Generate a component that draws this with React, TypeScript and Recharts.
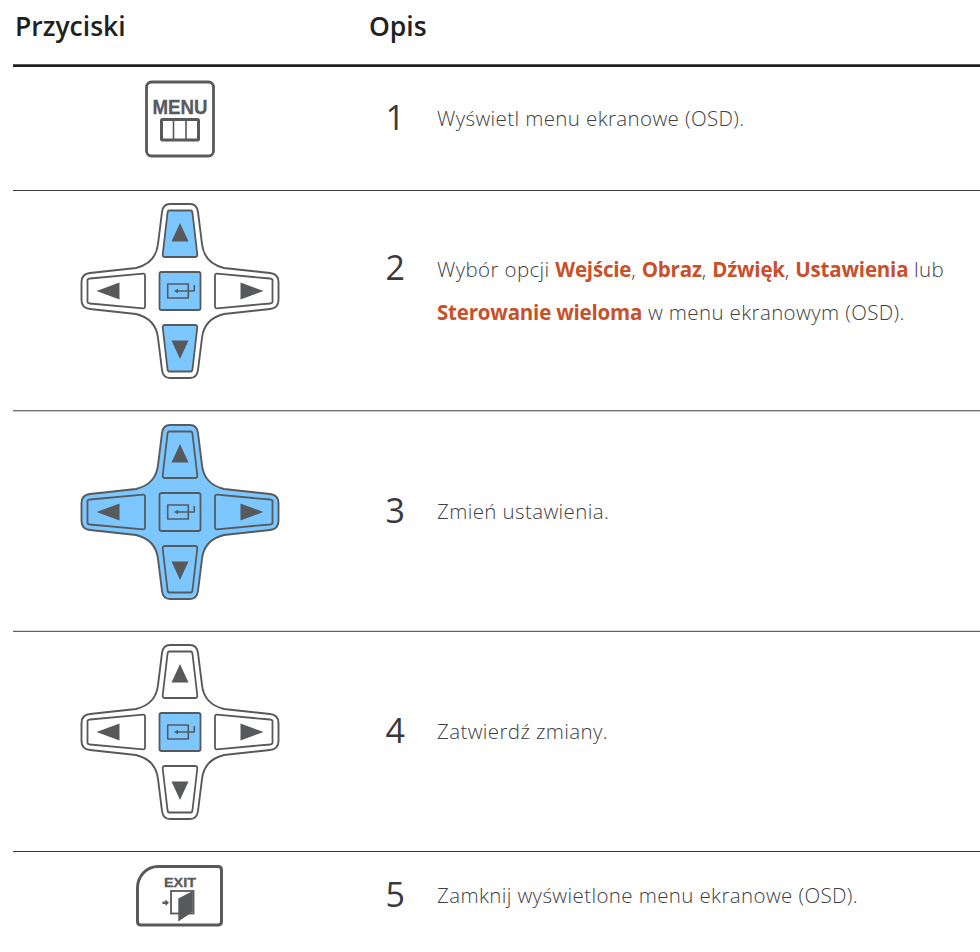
import React from 'react';
import { ScatterChart, Scatter, XAxis, YAxis, ReferenceLine } from 'recharts';

const PAGE_W = 980;
const PAGE_H = 952;
const INK = '#58595b';
const BLUE = '#7cc7ff';
const ACCENT = '#c8502a';
const TEXT = '#404042';
const BODY = '"Open Sans", sans-serif';

// table layout (y grows downwards, in page pixels)
const headerLabels = ['Przyciski', 'Opis'];
const headerColumns = [15, 369];
const headerBaseline = [36, 36];
const ruleRows = [190.5, 410.8, 631.3, 851.5];
const headRule = 65.6;
const ruleStart = 13;

const iconKinds = ['menu', 'pad', 'pad', 'pad', 'exit'];
const iconRows = [119, 291, 512, 732, 896];
const iconColumn = 180;
// which parts of the pad are lit: up/down, left/right, centre, body
const litUpDown = [false, true, true, false, false];
const litLeftRight = [false, false, true, false, false];
const litCentre = [false, true, true, true, false];
const litBody = [false, false, true, false, false];

const stepLabels = ['1', '2', '3', '4', '5'];
const stepColumn = 385.5;
const stepBaselines = [130, 280, 523, 743, 907];

const textColumn = 437;
const textLines = [
  [{ t: 'Wyświetl menu ekranowe (OSD).' }],
  [
    { t: 'Wybór opcji ' },
    { t: 'Wejście', b: true },
    { t: ', ' },
    { t: 'Obraz', b: true },
    { t: ', ' },
    { t: 'Dźwięk', b: true },
    { t: ', ' },
    { t: 'Ustawienia', b: true },
    { t: ' lub' },
  ],
  [{ t: 'Sterowanie wieloma', b: true }, { t: ' w menu ekranowym (OSD).' }],
  [{ t: 'Zmień ustawienia.' }],
  [{ t: 'Zatwierdź zmiany.' }],
  [{ t: 'Zamknij wyświetlone menu ekranowe (OSD).' }],
];
const textBaselines = [126, 277, 320, 519, 739, 903];

const headerData = headerLabels.map((label, i) => ({ x: headerColumns[i], y: headerBaseline[i], label }));
const iconData = iconKinds.map((kind, i) => ({
  x: iconColumn,
  y: iconRows[i],
  kind,
  upDown: litUpDown[i],
  leftRight: litLeftRight[i],
  centre: litCentre[i],
  body: litBody[i],
}));
const stepData = stepLabels.map((label, i) => ({ x: stepColumn, y: stepBaselines[i], label }));
const lineData = textLines.map((segments, i) => ({ x: textColumn, y: textBaselines[i], segments }));

const PAD_OUTLINE =
  'M -10 -87 L 10 -87 Q 17 -87 18 -79 L 22 -47 Q 24 -28 44 -23 L 90 -18 Q 98.5 -17 98.5 -9 L 98.5 9 Q 98.5 17 90 18 L 44 23 Q 24 28 22 47 L 18 79 Q 17 87 10 87 L -10 87 Q -17 87 -18 79 L -22 47 Q -24 28 -44 23 L -90 18 Q -98.5 17 -98.5 9 L -98.5 -9 Q -98.5 -17 -90 -18 L -44 -23 Q -24 -28 -22 -47 L -18 -79 Q -17 -87 -10 -87 Z';
const UP_KEY =
  'M -11 -80.5 L 11 -80.5 Q 12 -80.5 12.5 -78 L 17.3 -36.5 Q 17.5 -34 15 -34 L -15 -34 Q -17.5 -34 -17.3 -36.5 L -12.5 -78 Q -12 -80.5 -11 -80.5 Z';

const PadIcon = ({ cx, cy, payload }: any) => {
  const keyFill = (on: boolean) => (on ? BLUE : '#fff');
  return (
    <g transform={`translate(${cx},${cy})`} stroke={INK} strokeLinejoin="round">
      <path d={PAD_OUTLINE} fill={payload.body ? BLUE : '#fff'} strokeWidth={1.9} />
      {[0, 180].map((rot) => (
        <g key={rot} transform={`rotate(${rot})`}>
          <path d={UP_KEY} fill={keyFill(payload.upDown)} strokeWidth={1.8} />
          <path d="M 0 -68 L 8.5 -49.5 L -8.5 -49.5 Z" fill={INK} stroke="none" />
        </g>
      ))}
      {[90, 270].map((rot) => (
        <g key={rot} transform={`rotate(${rot})`}>
          <path
            d="M -11 -92.5 L 11 -92.5 Q 12 -92.5 12.5 -90 L 17.3 -37 Q 17.5 -35 15 -35 L -15 -35 Q -17.5 -35 -17.3 -37 L -12.5 -90 Q -12 -92.5 -11 -92.5 Z"
            fill={keyFill(payload.leftRight)}
            strokeWidth={1.8}
          />
          <path d="M 0 -83.5 L 8.5 -60.5 L -8.5 -60.5 Z" fill={INK} stroke="none" />
        </g>
      ))}
      <rect x={-20.5} y={-19} width={41} height={38} rx={2} fill={keyFill(payload.centre)} strokeWidth={1.8} />
      <rect x={-12.3} y={-7} width={20.6} height={14} fill="none" strokeWidth={1.6} />
      <path d="M 14.3 -6 L 14.3 0 L -3 0" fill="none" strokeWidth={1.6} />
      <path d="M -6 0 L -2 -2.2 L -2 2.2 Z" fill={INK} stroke="none" />
    </g>
  );
};

const MenuIcon = ({ cx, cy }: any) => (
  <g transform={`translate(${cx},${cy})`}>
    <rect x={-33.5} y={-37} width={67} height={74} rx={5} fill="#fff" stroke={INK} strokeWidth={2.8} />
    <text
      x={0}
      y={-5.5}
      textAnchor="middle"
      fontFamily='"Liberation Sans", Arial, sans-serif'
      fontWeight={700}
      fontSize={19.5}
      fill={INK}
      stroke={INK}
      strokeWidth={0.3}
      textLength={55}
      lengthAdjust="spacingAndGlyphs"
    >
      MENU
    </text>
    <rect x={-18.5} y={0.5} width={37} height={20.5} rx={1} fill="none" stroke={INK} strokeWidth={3} />
    <path d="M -6.5 0 L -6.5 21 M 6 0 L 6 21" stroke={INK} strokeWidth={1.6} />
  </g>
);

const ExitIcon = ({ cx, cy }: any) => (
  <g transform={`translate(${cx},${cy})`}>
    <path
      d="M -22 -29.5 L 38 -29.5 Q 41.5 -29.5 41.5 -26 L 41.5 25.5 Q 41.5 29 38 29 L -39 29 Q -42.5 29 -42.5 25.5 L -42.5 -8 A 20.5 21.5 0 0 1 -22 -29.5 Z"
      fill="#fff"
      stroke={INK}
      strokeWidth={3}
    />
    <text
      x={0}
      y={-9.5}
      textAnchor="middle"
      fontFamily='"Liberation Sans", Arial, sans-serif'
      fontWeight={700}
      fontSize={13}
      fill={INK}
      stroke={INK}
      strokeWidth={0.3}
      textLength={32}
      lengthAdjust="spacingAndGlyphs"
    >
      EXIT
    </text>
    <rect x={-9} y={-5} width={22.5} height={22.5} fill="none" stroke={INK} strokeWidth={1.8} />
    <path d="M -1.7 2.5 L 12.8 -5 L 12.8 15.8 L -1.7 25.5 Z" fill={INK} />
    <path d="M -17.5 5.5 L -14.5 5.5 L -14.5 3.5 L -11 6.8 L -14.5 10 L -14.5 8 L -17.5 8 Z" fill={INK} />
  </g>
);

const IconShape = (props: any) => {
  const { kind } = props.payload;
  if (kind === 'menu') return <MenuIcon {...props} />;
  if (kind === 'exit') return <ExitIcon {...props} />;
  return <PadIcon {...props} />;
};

const HeaderShape = ({ cx, cy, payload }: any) => (
  <text x={cx} y={cy} fontFamily={BODY} fontWeight={600} fontSize={26.5} fill="#231f20">
    {payload.label}
  </text>
);

const StepShape = ({ cx, cy, payload }: any) => (
  <text x={cx} y={cy} fontFamily={BODY} fontWeight={400} fontSize={34} fill="#3a3a3c">
    {payload.label}
  </text>
);

const LineShape = ({ cx, cy, payload }: any) => (
  <text x={cx} y={cy} fontFamily={BODY} fontSize={20.5} fill={TEXT}>
    {payload.segments.map((seg: any, i: number) => (
      <tspan
        key={i}
        fontWeight={seg.b ? 700 : 300}
        fill={seg.b ? ACCENT : TEXT}
        letterSpacing={seg.b ? -0.2 : 0.38}
      >
        {seg.t}
      </tspan>
    ))}
  </text>
);

export default function App() {
  return (
    <div style={{ position: 'absolute', left: 0, top: 0, width: PAGE_W, height: PAGE_H, background: '#fff' }}>
      <ScatterChart width={PAGE_W} height={PAGE_H} margin={{ top: 0, right: 0, bottom: 0, left: 0 }}>
        <XAxis type="number" dataKey="x" domain={[0, PAGE_W]} hide />
        <YAxis type="number" dataKey="y" domain={[0, PAGE_H]} reversed hide />
        <ReferenceLine
          segment={[{ x: ruleStart, y: headRule }, { x: PAGE_W, y: headRule }]}
          stroke="#231f20"
          strokeWidth={2.6}
        />
        {ruleRows.map((y) => (
          <ReferenceLine
            key={y}
            segment={[{ x: ruleStart, y }, { x: PAGE_W, y }]}
            stroke="#3a3a3c"
            strokeWidth={1}
          />
        ))}
        <Scatter data={headerData} shape={HeaderShape} isAnimationActive={false} />
        <Scatter data={iconData} shape={IconShape} isAnimationActive={false} />
        <Scatter data={stepData} shape={StepShape} isAnimationActive={false} />
        <Scatter data={lineData} shape={LineShape} isAnimationActive={false} />
      </ScatterChart>
    </div>
  );
}
